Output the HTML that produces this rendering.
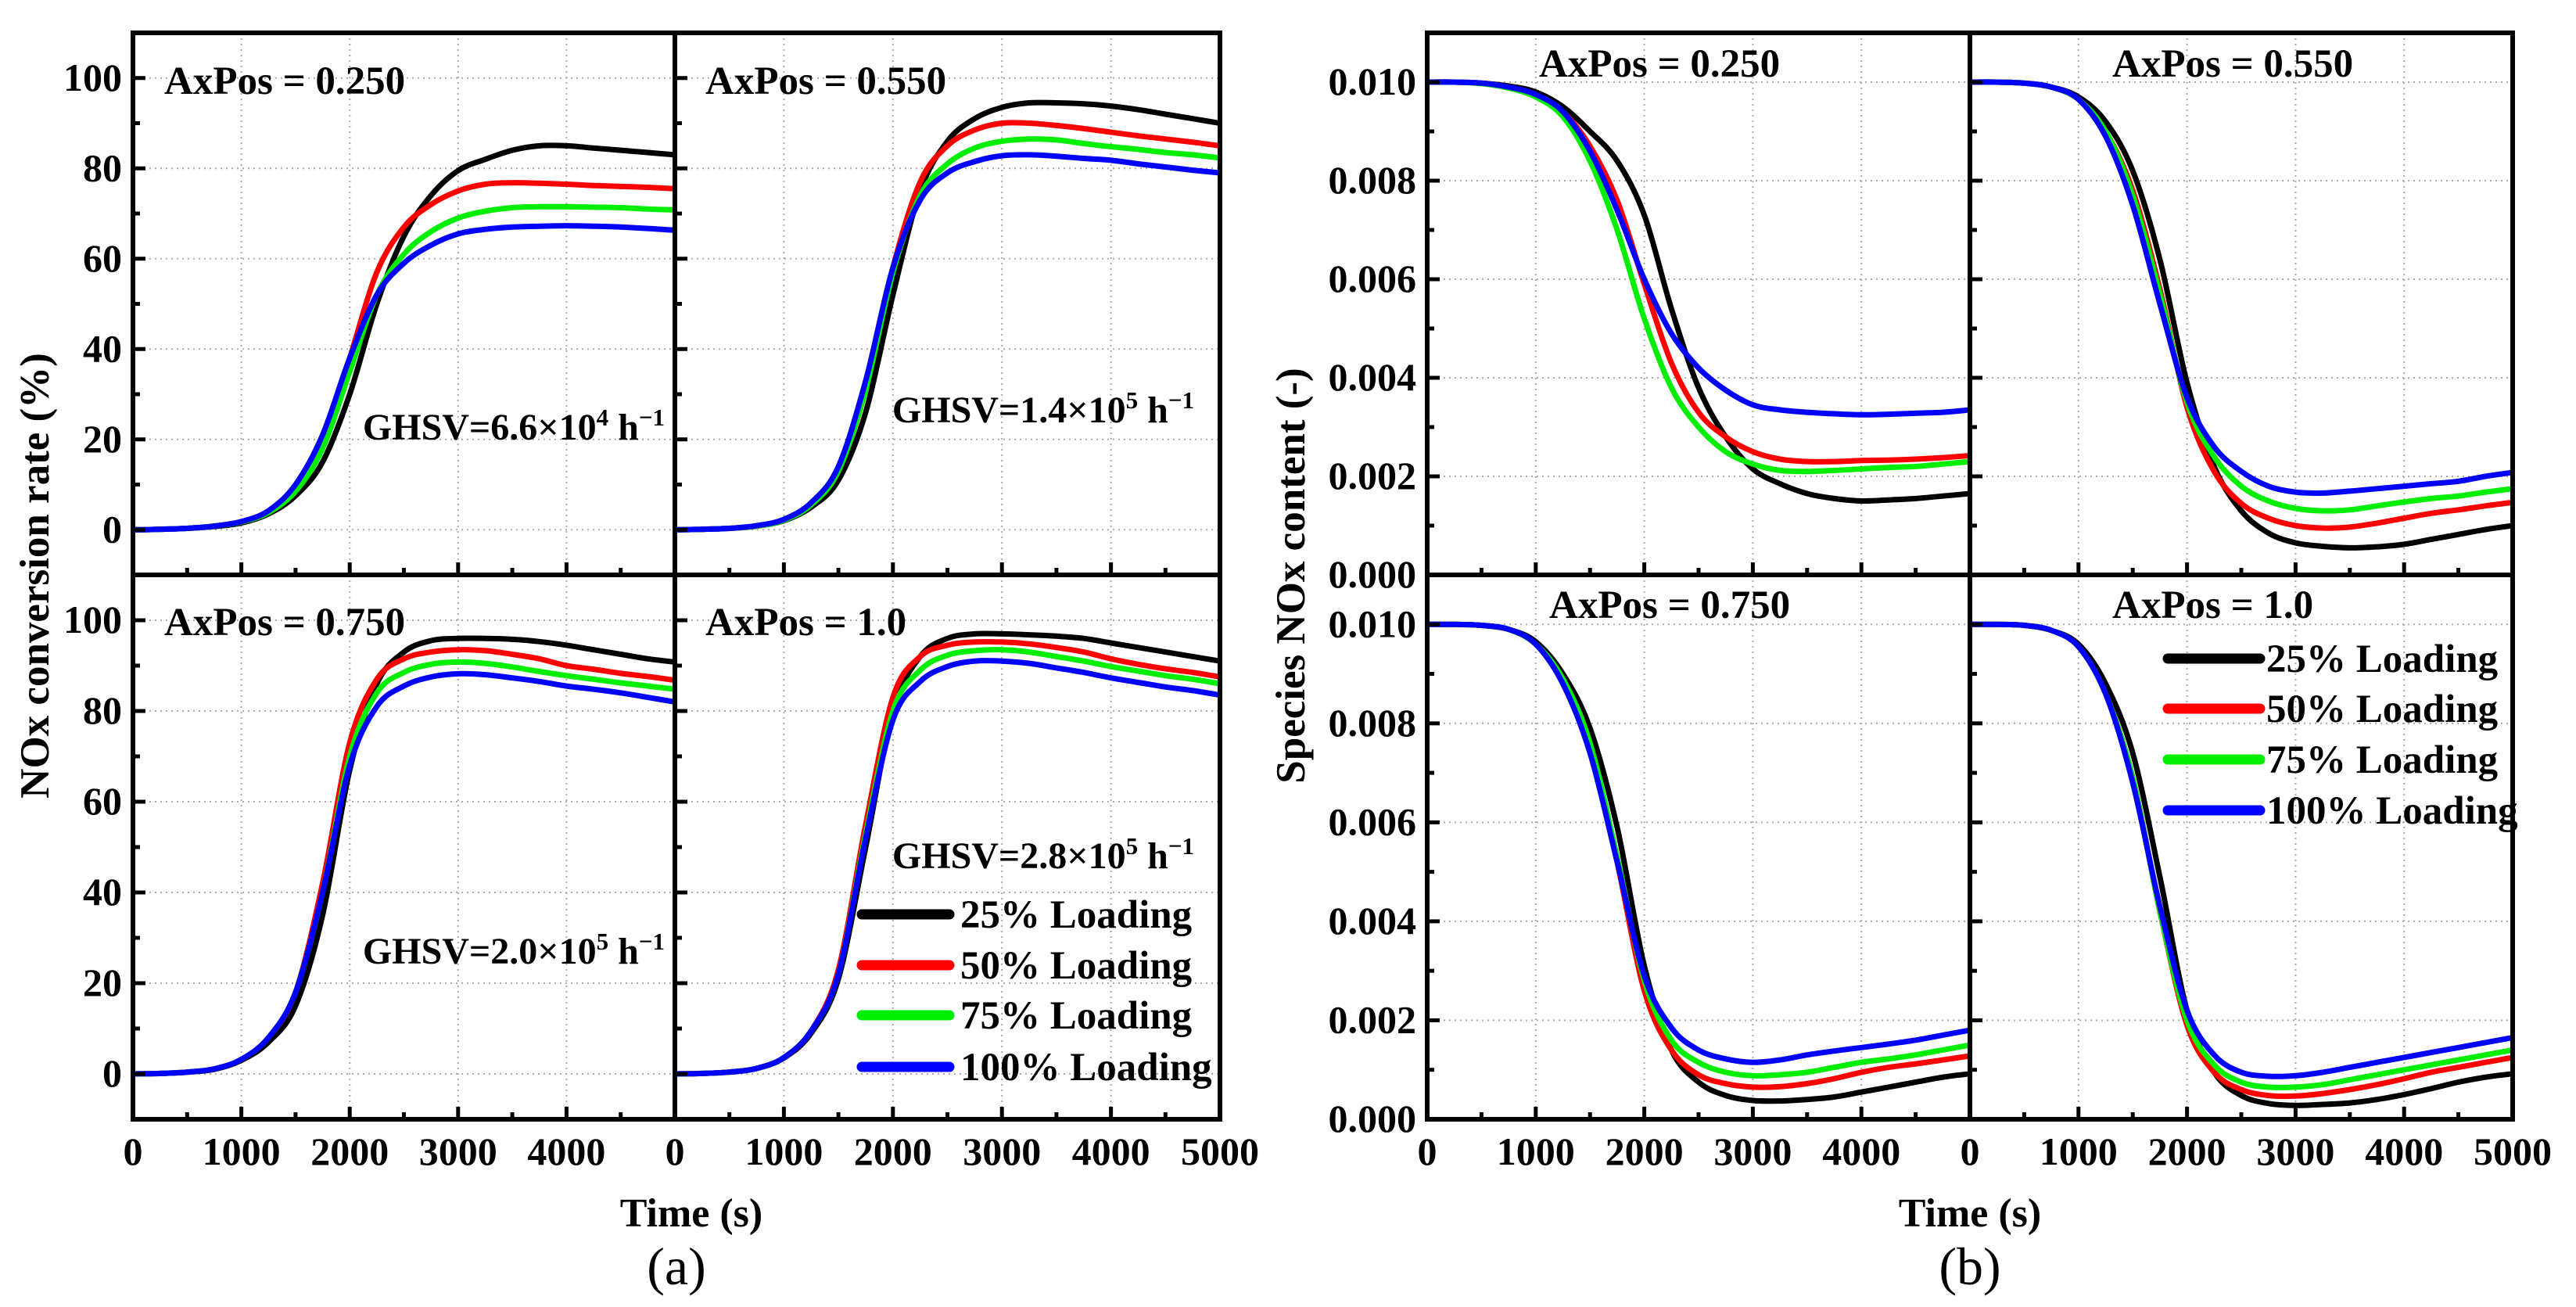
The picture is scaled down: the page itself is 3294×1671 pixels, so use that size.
<!DOCTYPE html>
<html><head><meta charset="utf-8"><style>
html,body{margin:0;padding:0;background:#fff}
svg{display:block}
text{font-family:"Liberation Serif",serif;font-weight:bold;fill:#000}
</style></head><body>
<svg id="chart" width="3294" height="1671" viewBox="0 0 3294 1671" xmlns="http://www.w3.org/2000/svg"></svg>
<script>
const times=[0,250,500,750,1000,1250,1500,1750,2000,2250,2500,2750,3000,3250,3500,3750,4000,4250,4500,4750,5000];
const seriesNames=["25% Loading","50% Loading","75% Loading","100% Loading"];
const seriesColors=["#000000","#ff0000","#00ee00","#0000ff"];
const axPosLabels=["AxPos = 0.250","AxPos = 0.550","AxPos = 0.750","AxPos = 1.0"];
const convTicks=[0,20,40,60,80,100];
const noxTicks=[0,0.002,0.004,0.006,0.008,0.010];
const timeTicks=[0,1000,2000,3000,4000,5000];
// (a) NOx conversion rate (%)
const convP1=[[0,0.1,0.3,0.7,1.5,3.5,7.5,15,30,50,65,74,79.5,82,84,85,85,84.5,84,83.5,83],
[0,0.1,0.3,0.8,1.8,4,9,19,38,57,67,72,75,76.5,76.8,76.7,76.5,76.2,76,75.8,75.5],
[0,0.1,0.3,0.8,1.7,3.8,8.5,18,35,52,61,66,69,70.5,71.3,71.5,71.5,71.4,71.3,71,70.8],
[0,0.1,0.3,0.8,1.8,4.2,10,21,38,52,59,63,65.5,66.5,67,67.2,67.3,67.2,67,66.7,66.3]];
const convP2=[[0,0.1,0.3,0.8,2,5,11,26,52,75,86,91,93.5,94.5,94.5,94.3,93.8,93,92,91,90],
[0,0.1,0.3,0.8,2.1,5.5,13,31,58,77,85,88.5,90,90,89.5,88.8,88,87.2,86.5,85.8,85],
[0,0.1,0.3,0.8,2.1,5.5,13,31,57,74,81,84.5,86,86.5,86.3,85.5,84.8,84.2,83.5,83,82.3],
[0,0.1,0.3,0.9,2.3,6,14,33,58,73,79,81.5,82.8,83,82.7,82.2,81.8,81,80.3,79.6,79]];
const convP3=[[0,0.1,0.4,1,3,7,15,35,67,86,93,95.5,96,96,95.8,95.3,94.5,93.5,92.5,91.5,90.8],
[0,0.1,0.4,1.1,3.2,8,18,42,73,87,91.5,93,93.5,93.3,92.5,91.5,90,89.2,88.3,87.6,86.8],
[0,0.1,0.4,1.1,3.2,8,18,40,70,84,88.5,90.3,90.8,90.5,89.7,88.7,87.8,87,86.2,85.5,84.8],
[0,0.1,0.4,1.1,3.2,8,18,40,68,81,85.5,87.5,88.2,88,87.3,86.5,85.5,84.8,84,83,82]];
const convP4=[[0,0.1,0.4,1.2,3.5,9,21,50,80,92,96,97,97,96.8,96.5,96,95,94,93,92,91],
[0,0.1,0.4,1.2,3.6,9.5,23,55,83,92,94.5,95.2,95.2,94.8,94,93,91.5,90.3,89.3,88.5,87.5],
[0,0.1,0.4,1.2,3.6,9.5,22,53,80,89,92.3,93.3,93.5,93,92,91,89.8,88.8,87.8,87,86],
[0,0.1,0.4,1.2,3.6,9.5,22,52,78,86.5,89.8,91,91,90.5,89.5,88.5,87.3,86.3,85.3,84.5,83.5]];
// (b) Species NOx content (x 0.001)
const noxP1=[[10,10,9.98,9.92,9.8,9.5,9.0,8.4,7.3,5.4,3.8,2.8,2.15,1.85,1.65,1.55,1.5,1.52,1.55,1.6,1.65],
[10,10,9.98,9.9,9.75,9.4,8.7,7.6,5.9,4.3,3.3,2.8,2.5,2.35,2.3,2.3,2.32,2.33,2.35,2.38,2.42],
[10,10,9.97,9.88,9.7,9.3,8.4,7.0,5.2,3.8,3.0,2.5,2.25,2.12,2.1,2.12,2.15,2.18,2.2,2.25,2.3],
[10,10,9.98,9.9,9.75,9.4,8.6,7.4,6.0,4.9,4.2,3.75,3.45,3.35,3.3,3.27,3.25,3.26,3.28,3.3,3.35]];
const noxP2=[[10,10,9.98,9.9,9.7,9.2,8.2,6.4,3.9,2.2,1.3,0.85,0.65,0.58,0.55,0.57,0.62,0.72,0.82,0.92,1.0],
[10,10,9.98,9.9,9.65,9.0,7.8,5.8,3.4,2.1,1.45,1.15,1.0,0.95,0.97,1.05,1.15,1.25,1.32,1.4,1.47],
[10,10,9.98,9.9,9.65,9.0,7.7,5.7,3.5,2.4,1.8,1.5,1.35,1.3,1.32,1.4,1.48,1.55,1.6,1.68,1.75],
[10,10,9.98,9.9,9.65,8.9,7.5,5.5,3.6,2.6,2.1,1.8,1.68,1.66,1.7,1.75,1.8,1.85,1.9,2.0,2.08]];
const noxP3=[[10,10,9.98,9.9,9.65,9.0,7.9,5.9,3.1,1.4,0.75,0.48,0.38,0.37,0.4,0.45,0.55,0.65,0.75,0.85,0.92],
[10,10,9.98,9.9,9.6,8.9,7.6,5.2,2.6,1.4,0.9,0.72,0.65,0.66,0.72,0.82,0.95,1.05,1.12,1.2,1.28],
[10,10,9.98,9.9,9.6,8.9,7.6,5.3,2.8,1.6,1.15,0.95,0.88,0.9,0.95,1.05,1.15,1.22,1.3,1.4,1.5],
[10,10,9.98,9.9,9.6,8.8,7.4,5.2,2.9,1.85,1.4,1.22,1.15,1.2,1.3,1.38,1.45,1.52,1.6,1.7,1.8]];
const noxP4=[[10,10,9.98,9.88,9.6,8.8,7.4,4.9,2.2,0.95,0.48,0.32,0.28,0.3,0.33,0.4,0.5,0.62,0.75,0.85,0.92],
[10,10,9.98,9.88,9.55,8.6,6.9,4.2,1.9,0.95,0.6,0.48,0.47,0.52,0.6,0.7,0.82,0.95,1.05,1.15,1.25],
[10,10,9.98,9.88,9.55,8.6,6.9,4.2,2.0,1.1,0.75,0.65,0.65,0.7,0.8,0.9,1.0,1.1,1.2,1.3,1.4],
[10,10,9.98,9.88,9.55,8.6,6.8,4.3,2.2,1.3,0.95,0.87,0.88,0.95,1.05,1.15,1.25,1.35,1.45,1.55,1.65]];

const svg=document.getElementById('chart');
const NS="http://www.w3.org/2000/svg";
function el(tag,attrs,parent){const e=document.createElementNS(NS,tag);for(const k in attrs)e.setAttribute(k,attrs[k]);(parent||svg).appendChild(e);return e;}
function txt(s,attrs,parent){const e=el('text',attrs,parent);e.textContent=s;return e;}
function smooth(pts){let d=`M${pts[0][0]},${pts[0][1]}`;for(let i=0;i<pts.length-1;i++){const p0=pts[Math.max(0,i-1)],p1=pts[i],p2=pts[i+1],p3=pts[Math.min(pts.length-1,i+2)];const c1=[p1[0]+(p2[0]-p0[0])/6,p1[1]+(p2[1]-p0[1])/6],c2=[p2[0]-(p3[0]-p1[0])/6,p2[1]-(p3[1]-p1[1])/6];d+=`C${c1[0].toFixed(1)},${c1[1].toFixed(1)} ${c2[0].toFixed(1)},${c2[1].toFixed(1)} ${p2[0].toFixed(1)},${p2[1].toFixed(1)}`;}return d;}

let clipId=0;
function panel(o){
  const g=el('g',{});
  
  
  const xs=v=>o.x0+(v-0)/5000*(o.x1-o.x0);
  const ys=v=>o.y1-(v-o.ymin)/(o.ymax-o.ymin)*(o.y1-o.y0);
  for(const t of timeTicks){if(t>0&&t<5000)el('line',{x1:xs(t),x2:xs(t),y1:o.y0,y2:o.y1,stroke:'#aaa','stroke-width':2,'stroke-dasharray':'2,5'},g);}
  for(const v of o.yticks){if(ys(v)>o.y0+3&&ys(v)<o.y1-3)el('line',{x1:o.x0,x2:o.x1,y1:ys(v),y2:ys(v),stroke:'#aaa','stroke-width':2,'stroke-dasharray':'2,5'},g);}
  const cid='clip'+(clipId++);
  const cp=el('clipPath',{id:cid},g);el('rect',{x:o.x0,y:o.y0,width:o.x1-o.x0,height:o.y1-o.y0},cp);
  o.data.forEach((ser,i)=>{
    const pts=times.map((t,j)=>[xs(t),ys(ser[j]*o.mult)]);
    const p=el('path',{d:smooth(pts),fill:'none',stroke:seriesColors[i],'stroke-width':7,'stroke-linejoin':'round','clip-path':`url(#${cid})`},g);
    
    
  });
  for(let t=0;t<=5000;t+=500){const L=(t%1000===0)?16:9;if(t>0&&t<5000)el('line',{x1:xs(t),x2:xs(t),y1:o.y1,y2:o.y1-L,stroke:'#000','stroke-width':5},g);}
  const step=o.yticks[1]-o.yticks[0];
  for(let k=0;;k++){const v=o.yticks[0]+k*step/2;if(v>o.ymax)break;const L=(k%2===0)?16:9;const y=ys(v);if(y>o.y0+4&&y<o.y1-4)el('line',{x1:o.x0,x2:o.x0+L,y1:y,y2:y,stroke:'#000','stroke-width':5},g);}
  for(let k=-1;;k--){const v=o.yticks[0]+k*step/2;if(v<o.ymin)break;const y=ys(v);if(y>o.y0+4&&y<o.y1-4)el('line',{x1:o.x0,x2:o.x0+9,y1:y,y2:y,stroke:'#000','stroke-width':5},g);}
  el('rect',{x:o.x0,y:o.y0,width:o.x1-o.x0,height:o.y1-o.y0,fill:'none',stroke:'#000','stroke-width':6},g);
  if(o.ylabels){for(const v of o.yticks){const t=txt(o.fmt(v),{x:o.x0-14,y:ys(v)+16,'text-anchor':'end','font-size':50},g);}}
  if(o.xlabels){for(const v of timeTicks){if(v===5000&&!o.last)continue;const t=txt(String(v),{x:xs(v),y:o.y1+58,'text-anchor':'middle','font-size':50},g);}}
  const ap=txt(o.title,{x:o.tx,y:o.ty,'font-size':51},g);
  
  
  return g;
}
const A={x0:170,xm:863,x1:1560,y0:42,ym:735,y1:1431};
const B={x0:1825,xm:2519,x1:3213,y0:42,ym:735,y1:1431};
const fa=v=>String(v), fb=v=>v.toFixed(3);
const convData=[convP1,convP2,convP3,convP4], noxData=[noxP1,noxP2,noxP3,noxP4];
const aTitlePos=[[210,120],[902,120],[210,812],[902,812]];
const bTitlePos=[[1968,98],[2701,98],[1981,790],[2701,790]];
for(let i=0;i<4;i++){
  const c=i%2,r=Math.floor(i/2);
  panel({name:'panel-a-'+(i+1),x0:c?A.xm:A.x0,x1:c?A.x1:A.xm,y0:r?A.ym:A.y0,y1:r?A.y1:A.ym,ymin:-10,ymax:110,yticks:convTicks,mult:1,data:convData[i],ylabels:c===0,xlabels:r===1,last:c===1,fmt:fa,title:axPosLabels[i],tx:aTitlePos[i][0],ty:aTitlePos[i][1]});
  panel({name:'panel-b-'+(i+1),x0:c?B.xm:B.x0,x1:c?B.x1:B.xm,y0:r?B.ym:B.y0,y1:r?B.y1:B.ym,ymin:0,ymax:0.011,yticks:noxTicks,mult:0.001,data:noxData[i],ylabels:c===0,xlabels:r===1,last:c===1,fmt:fb,title:axPosLabels[i],tx:bTitlePos[i][0],ty:bTitlePos[i][1]});
}
const ghsv=[["6.6","4",850,562],["1.4","5",1527,540],["2.0","5",850,1232],["2.8","5",1527,1110]];
ghsv.forEach(g=>{
  const t=el('text',{x:g[2],y:g[3],'text-anchor':'end','font-size':48});
  
  
  t.innerHTML=`GHSV=${g[0]}×10<tspan font-size="31" dy="-18">${g[1]}</tspan><tspan dy="18"> h</tspan><tspan font-size="31" dy="-18">−1</tspan>`;
});
function legend(name,lx0,lx1,tx,ys){
  const g=el('g',{});
  
  
  seriesNames.forEach((n,i)=>{
    el('line',{x1:lx0,x2:lx1,y1:ys[i],y2:ys[i],stroke:seriesColors[i],'stroke-width':13,'stroke-linecap':'round'},g);
    const t=txt(n,{x:tx,y:ys[i]+17,'font-size':51},g);
    
    
  });
}
legend('legend-a',1102,1214,1228,[1169,1234,1298,1364]);
legend('legend-b',2772,2890,2898,[842,906,971,1036]);
let t;
t=txt('NOx conversion rate (%)',{x:0,y:0,'text-anchor':'middle','font-size':53,transform:'translate(62,736) rotate(-90)'});

t=txt('Species NOx content (-)',{x:0,y:0,'text-anchor':'middle','font-size':53,transform:'translate(1668,736) rotate(-90)'});

t=txt('Time (s)',{x:884,y:1568,'text-anchor':'middle','font-size':52});

t=txt('Time (s)',{x:2519,y:1568,'text-anchor':'middle','font-size':52});

t=txt('(a)',{x:865,y:1642,'text-anchor':'middle','font-size':68,style:'font-weight:normal'});

t=txt('(b)',{x:2519,y:1642,'text-anchor':'middle','font-size':68,style:'font-weight:normal'});

</script>
</body></html>
